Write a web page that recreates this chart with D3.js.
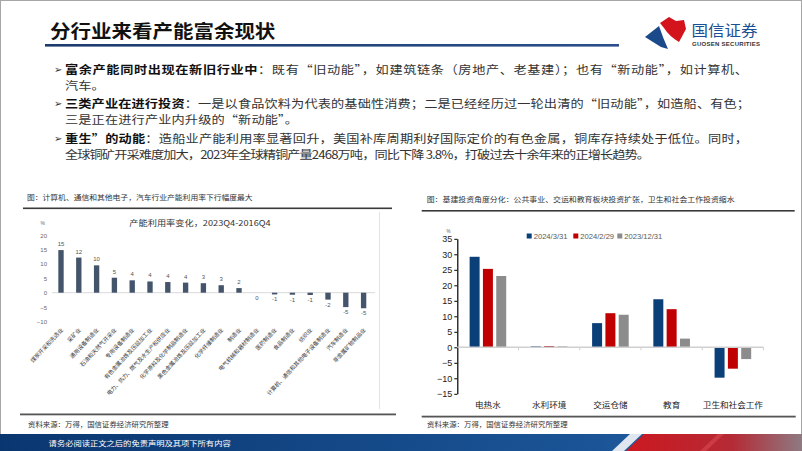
<!DOCTYPE html>
<html><head><meta charset="utf-8">
<script src="https://cdn.jsdelivr.net/npm/d3@7"></script>
<style>html,body{margin:0;padding:0;background:#fff;}svg{display:block;}</style>
</head><body>
<script>
// ---------- data ----------
const leftCategories = ["煤炭开采和洗选业","采矿业","通用设备制造业","石油和天然气开采业","专用设备制造业","有色金属冶炼及压延加工业","电力、热力、燃气及水生产和供应业","化学原料及化学制品制造业","黑色金属冶炼及压延加工业","化学纤维制造业","制造业","电气机械和器材制造业","医药制造业","食品制造业","纺织业","计算机、通信和其他电子设备制造业","汽车制造业","非金属矿物制品业"];
const leftValues = [14.8, 12.2, 9.5, 5.2, 4.3, 3.9, 3.7, 3.5, 3.3, 2.6, 1.6, 0, -0.6, -0.7, -0.8, -2.4, -5.0, -5.4];
const leftTicks = [-10, -5, 0, 5, 10, 15, 20];

const rightCategories = ["电热水","水利环境","交运仓储","教育","卫生和社会工作"];
const seriesNames = ["2024/3/31","2024/2/29","2023/12/31"];
const series2024Mar = [29.2, 0.3, 7.8, 15.5, -9.8];
const series2024Feb = [25.3, 0.4, 11.0, 12.3, -6.9];
const series2023Dec = [23.0, 0.3, 10.5, 2.8, -3.8];
const rightTicks = [-15, -10, -5, 0, 5, 10, 15, 20, 25, 30, 35];
const seriesColors = ["#0b3f78", "#c00000", "#8c8c8c"];

const CJK = "'Noto Sans CJK SC','Noto Sans',sans-serif";
const SANS = "'Liberation Sans',Arial,sans-serif";
const SY = 0.88;

const svg = d3.select("body").append("svg").attr("width",802).attr("height",451);
svg.append("rect").attr("width",802).attr("height",451).attr("fill","#fff");
const defs = svg.append("defs");

function T(g, x, y, str, o={}) {
  const t = g.append("text")
    .attr("transform",`translate(${x},${y}) scale(${o.sx||1},${o.sy||SY})`)
    .attr("dominant-baseline","central")
    .attr("text-anchor", o.anchor||"start")
    .attr("fill", o.fill||"#222")
    .style("font-family", o.ff||CJK)
    .style("font-size", (o.size||10)+"px")
    .style("font-weight", o.weight||"normal");
  if (o.len) t.attr("textLength", o.len).attr("lengthAdjust","spacing");
  if (str !== null) t.text(str);
  return t;
}

// ---------- page frame / header ----------
svg.append("rect").attr("x",0.5).attr("y",0.5).attr("width",801).attr("height",450)
  .attr("fill","none").attr("stroke","#a6a6a6").attr("stroke-width",1);
T(svg, 50, 31, "分行业来看产能富余现状", {size:20.5, weight:"bold", fill:"#111", sy:0.88});
const hg = defs.append("linearGradient").attr("id","hl");
hg.append("stop").attr("offset","0").attr("stop-color","#1d3a6c");
hg.append("stop").attr("offset","1").attr("stop-color","#2a4f8a");
svg.append("rect").attr("x",45).attr("y",44).attr("width",574).attr("height",2.6).attr("fill","url(#hl)");

// logo
svg.append("path").attr("d","M645,37 L659,26 Q663,38 668,49 L661,47 Z").attr("fill","#1b4a8a");
svg.append("path").attr("d","M660,23 L669,17 L676,21 L684,20 L686,29 L679,42 Q669,36 664,28 Z").attr("fill","#d4141c");
T(svg, 691.5, 29.5, "国信证券", {size:16.5, fill:"#1b4f93", sy:0.92});
T(svg, 692, 44, "GUOSEN SECURITIES", {size:6, weight:"bold", fill:"#333", ff:SANS, len:68, sy:1});

// ---------- bullets ----------
const bullets = [
  {y:[69, 85], bold:"富余产能同时出现在新旧行业中", rest:"：既有“旧动能”，如建筑链条（房地产、老基建）；也有“新动能”，如计算机、", l2:"汽车。", len1:683, len2:null},
  {y:[103.5, 119.5], bold:"三类产业在进行投资", rest:"：一是以食品饮料为代表的基础性消费；二是已经经历过一轮出清的“旧动能”，如造船、有色；", l2:"三是正在进行产业内升级的“新动能”。", len1:685, len2:233},
  {y:[138.5, 154.5], bold:"重生”的动能", rest:"：造船业产能利用率显著回升，美国补库周期利好国际定价的有色金属，铜库存持续处于低位。同时，", l2:"全球铜矿开采难度加大，2023年全球精铜产量2468万吨，同比下降 3.8%，打破过去十余年来的正增长趋势。", len1:683, len2:585}
];
bullets.forEach(b => {
  T(svg, 54, b.y[0], "➢", {size:10, ff:"'DejaVu Sans',sans-serif", fill:"#333", sy:1});
  const t = T(svg, 65, b.y[0], null, {size:13.2, len:b.len1});
  t.append("tspan").style("font-weight","bold").attr("fill","#111").text(b.bold);
  t.append("tspan").attr("fill","#333").text(b.rest);
  T(svg, 65, b.y[1], b.l2, {size:13.2, fill:"#333", len:b.len2});
});

// ---------- left chart ----------
T(svg, 27, 196.7, "图：计算机、通信和其他电子，汽车行业产能利用率下行幅度最大", {size:7.8, fill:"#333"});
svg.append("rect").attr("x",23).attr("y",207.5).attr("width",369).attr("height",1.6).attr("fill","#3a3a3a");
svg.append("line").attr("x1",379.5).attr("x2",379.5).attr("y1",212).attr("y2",409).attr("stroke","#e3e3e3");
T(svg, 200, 222.7, "产能利用率变化，2023Q4-2016Q4", {size:9.2, fill:"#333", anchor:"middle"});
T(svg, 40.5, 222.7, "%", {size:5, fill:"#666", ff:SANS, sy:1});

const xL = d3.scaleBand().domain(leftCategories).range([52.1, 372.5]).paddingInner(0.7).paddingOuter(0.35);
const yL = d3.scaleLinear().domain([-10, 20]).range([321.5, 235.1]);

const axL = svg.append("g").attr("transform","translate(50,0)")
  .call(d3.axisLeft(yL).tickValues(leftTicks).tickSize(0).tickPadding(3));
axL.select(".domain").remove();
axL.selectAll("text").style("font-family",SANS).style("font-size","6px").attr("fill","#666");

svg.append("line").attr("x1",52).attr("x2",375).attr("y1",yL(0)).attr("y2",yL(0)).attr("stroke","#d9d9d9").attr("stroke-width",1);

const lg = svg.append("g");
lg.selectAll("rect").data(leftValues).join("rect")
  .attr("x",(d,i)=>xL(leftCategories[i]))
  .attr("width",xL.bandwidth())
  .attr("y",d=>yL(Math.max(0,d)))
  .attr("height",d=>Math.abs(yL(d)-yL(0)))
  .attr("fill","#44546a");
lg.selectAll("text.v").data(leftValues).join("text").attr("class","v")
  .attr("x",(d,i)=>xL(leftCategories[i])+xL.bandwidth()/2)
  .attr("y",d=> d>0 ? yL(d)-4 : yL(d)+7)
  .attr("text-anchor","middle")
  .style("font-family",SANS).style("font-size","6px").attr("fill","#555")
  .text(d=>Math.round(d));
lg.selectAll("text.c").data(leftCategories).join("text").attr("class","c")
  .attr("transform",d=>`translate(${xL(d)+xL.bandwidth()/2+1},${329}) rotate(-47)`)
  .attr("text-anchor","end").attr("dominant-baseline","central")
  .style("font-family",CJK).style("font-size","5.6px").attr("fill","#333")
  .text(d=>d);

svg.append("rect").attr("x",20).attr("y",413.5).attr("width",376).attr("height",1.8).attr("fill","#555");
T(svg, 28, 424, "资料来源：万得，国信证券经济研究所整理", {size:7.4, fill:"#333"});

// ---------- right chart ----------
T(svg, 426.7, 198.3, "图：基建投资角度分化：公共事业、交运和教育板块投资扩张，卫生和社会工作投资缩水", {size:7.9, fill:"#333"});
svg.append("rect").attr("x",421.7).attr("y",210).attr("width",373).attr("height",1.6).attr("fill","#3a3a3a");

// legend
const legX = [526.7, 573.3, 617.3];
seriesNames.forEach((s,i)=>{
  svg.append("rect").attr("x",legX[i]).attr("y",233.5).attr("width",5).attr("height",5).attr("fill",seriesColors[i]);
  T(svg, legX[i]+7, 236, s, {size:7.6, ff:SANS, fill:"#595959", sy:1});
});
T(svg, 446.5, 231.5, "%", {size:4.5, ff:SANS, fill:"#555", sy:1});

const xR = d3.scaleBand().domain(rightCategories).range([457.3, 763.5]);
const x1 = d3.scaleBand().domain(seriesNames).range([0, 36.6]).paddingInner(0.25);
const yR = d3.scaleLinear().domain([-15, 35]).range([393.8, 238.8]);
const groupOffset = (xR.bandwidth() - 36.6) / 2;

const axR = svg.append("g").attr("transform","translate(457.3,0)")
  .call(d3.axisLeft(yR).tickValues(rightTicks).tickSize(3).tickSizeOuter(0).tickPadding(2));
axR.select(".domain").attr("stroke","#000").attr("stroke-width",1.2);
axR.selectAll(".tick line").attr("stroke","#000");
axR.selectAll("text").style("font-family",SANS).style("font-size","9px").attr("fill","#222");

const allSeries = [series2024Mar, series2024Feb, series2023Dec];
const rg = svg.append("g");
allSeries.forEach((vals, si)=>{
  rg.selectAll(null).data(vals).join("rect")
    .attr("x",(d,i)=>xR(rightCategories[i]) + groupOffset + x1(seriesNames[si]))
    .attr("width",x1.bandwidth())
    .attr("y",d=>yR(Math.max(0,d)))
    .attr("height",d=>Math.max(0.8, Math.abs(yR(d)-yR(0))))
    .attr("fill",seriesColors[si]);
});
// zero line with category ticks
svg.append("line").attr("x1",457.3).attr("x2",763.5).attr("y1",yR(0)).attr("y2",yR(0)).attr("stroke","#d0d0d0").attr("stroke-width",1.5);
rightCategories.slice(1).concat(["_end"]).forEach(c=>{
  const x = c==="_end" ? 763.5 : xR(c);
  svg.append("line").attr("x1",x).attr("x2",x).attr("y1",yR(0)).attr("y2",yR(0)+3).attr("stroke","#d0d0d0").attr("stroke-width",1);
});
rightCategories.forEach(c=>{
  T(svg, xR(c)+xR.bandwidth()/2, 404.3, c, {size:8.6, anchor:"middle", fill:"#222"});
});

svg.append("rect").attr("x",421.7).attr("y",415.7).attr("width",374).attr("height",1.8).attr("fill","#555");
T(svg, 427, 424, "资料来源：万得，国信证券经济研究所整理", {size:7.4, fill:"#333"});

// ---------- footer banner ----------
const fg = defs.append("linearGradient").attr("id","fb");
fg.append("stop").attr("offset","0").attr("stop-color","#0a3670");
fg.append("stop").attr("offset","0.75").attr("stop-color","#1b5597");
fg.append("stop").attr("offset","1").attr("stop-color","#2e6bb0");
const rgd = defs.append("linearGradient").attr("id","fr");
rgd.append("stop").attr("offset","0").attr("stop-color","#cc1820");
rgd.append("stop").attr("offset","0.6").attr("stop-color","#b52a35");
rgd.append("stop").attr("offset","1").attr("stop-color","#8e7a82");
svg.append("rect").attr("x",0).attr("y",434).attr("width",802).attr("height",17).attr("fill","url(#fb)");
svg.append("path").attr("d","M612,451 L630,434 L642,434 L624,451 Z").attr("fill","#dfe6ef");
svg.append("path").attr("d","M626,451 L644,434 L802,434 L802,451 Z").attr("fill","url(#fr)");
svg.append("path").attr("d","M700,451 L718,434 L724,434 L706,451 Z").attr("fill","#e05058").attr("opacity",0.5);
T(svg, 48.6, 443, "请务必阅读正文之后的免责声明及其项下所有内容", {size:8.3, fill:"#fff"});
</script>
</body></html>
